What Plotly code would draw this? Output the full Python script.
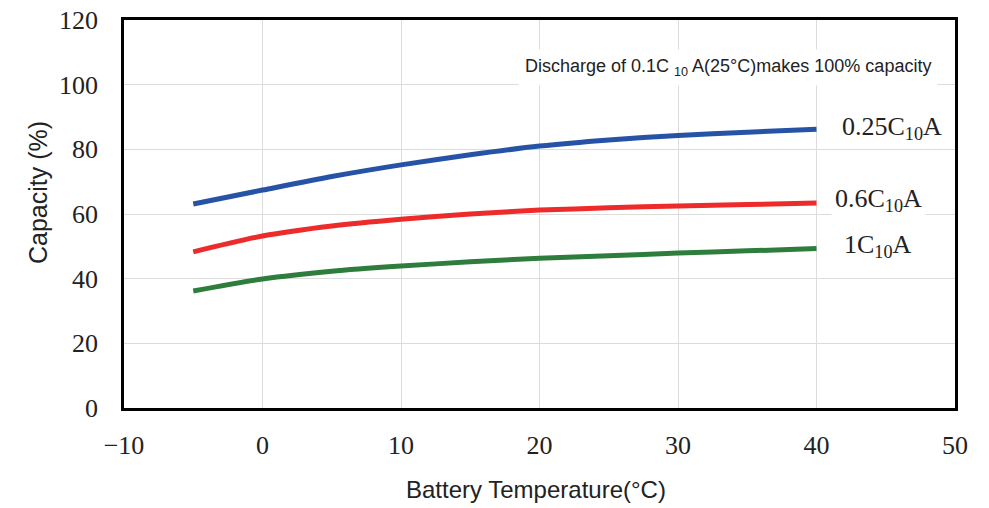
import plotly.graph_objects as go

temps = [-5, 0, 5, 10, 15, 20, 25, 30, 35, 40]
cap_025 = [63.1, 67.4, 71.6, 75.2, 78.3, 81.0, 82.9, 84.3, 85.3, 86.2]
cap_06 = [48.3, 53.2, 56.3, 58.4, 60.0, 61.2, 61.9, 62.5, 62.9, 63.4]
cap_1 = [36.2, 39.9, 42.3, 43.9, 45.2, 46.3, 47.1, 47.9, 48.6, 49.3]

series_names = ["0.25C<sub>10</sub>A", "0.6C<sub>10</sub>A", "1C<sub>10</sub>A"]
series_vals = [cap_025, cap_06, cap_1]
colors = ["#2653a6", "#ee2b2b", "#2f7d3d"]
label_pos = [(41.55, 86.6), (41.05, 64.3), (41.7, 50.1)]

x_ticks = [-10, 0, 10, 20, 30, 40, 50]
y_ticks = [0, 20, 40, 60, 80, 100, 120]

fig = go.Figure()
for name, vals, col in zip(series_names, series_vals, colors):
    fig.add_trace(go.Scatter(x=temps, y=vals, mode="lines", name=name,
                             line=dict(color=col, width=5, shape="spline", smoothing=0.8),
                             showlegend=False))

for name, (lx, ly) in zip(series_names, label_pos):
    fig.add_annotation(x=lx, y=ly, xref="x", yref="y", text=name, showarrow=False,
                       xanchor="left", yanchor="middle",
                       font=dict(family="Liberation Serif", size=26, color="#222"),
                       bgcolor="white", borderpad=3)

fig.add_annotation(x=33.6, y=105.2, xref="x", yref="y",
                   text="Discharge of 0.1C <sub>10</sub> A(25°C)makes 100% capacity",
                   showarrow=False, xanchor="center", yanchor="middle",
                   font=dict(family="Liberation Sans", size=18, color="#222"),
                   bgcolor="white", borderpad=6)

# axis titles
fig.add_annotation(x=-0.1035, y=0.5567, xref="paper", yref="paper", text="Capacity (%)",
                   showarrow=False, textangle=-90, xanchor="center", yanchor="middle",
                   font=dict(family="Liberation Sans", size=25, color="#222"))
fig.add_annotation(x=0.4958, y=-0.2088, xref="paper", yref="paper",
                   text="Battery Temperature(°C)", showarrow=False,
                   xanchor="center", yanchor="middle",
                   font=dict(family="Liberation Sans", size=24, color="#222"))

axis_common = dict(showline=True, mirror=True, linecolor="black", linewidth=2.5,
                   showgrid=True, gridcolor="#dcdcdc", gridwidth=1, zeroline=False,
                   automargin=False, ticklabeloverflow="allow",
                   ticks="", tickfont=dict(family="Liberation Serif", size=26, color="#222"))

fig.update_xaxes(range=[-10, 50], tickvals=x_ticks, ticklabelstandoff=12, **axis_common)
fig.update_yaxes(range=[0, 120], tickvals=y_ticks, ticklabelstandoff=18, **axis_common)

fig.update_layout(width=989, height=508, margin=dict(l=124, r=34, t=20, b=100),
                  paper_bgcolor="white", plot_bgcolor="white", hovermode=False)

fig.write_html("out.html", config={"displayModeBar": False},
               post_script="document.body.style.margin='0';document.body.style.overflow='hidden';")
